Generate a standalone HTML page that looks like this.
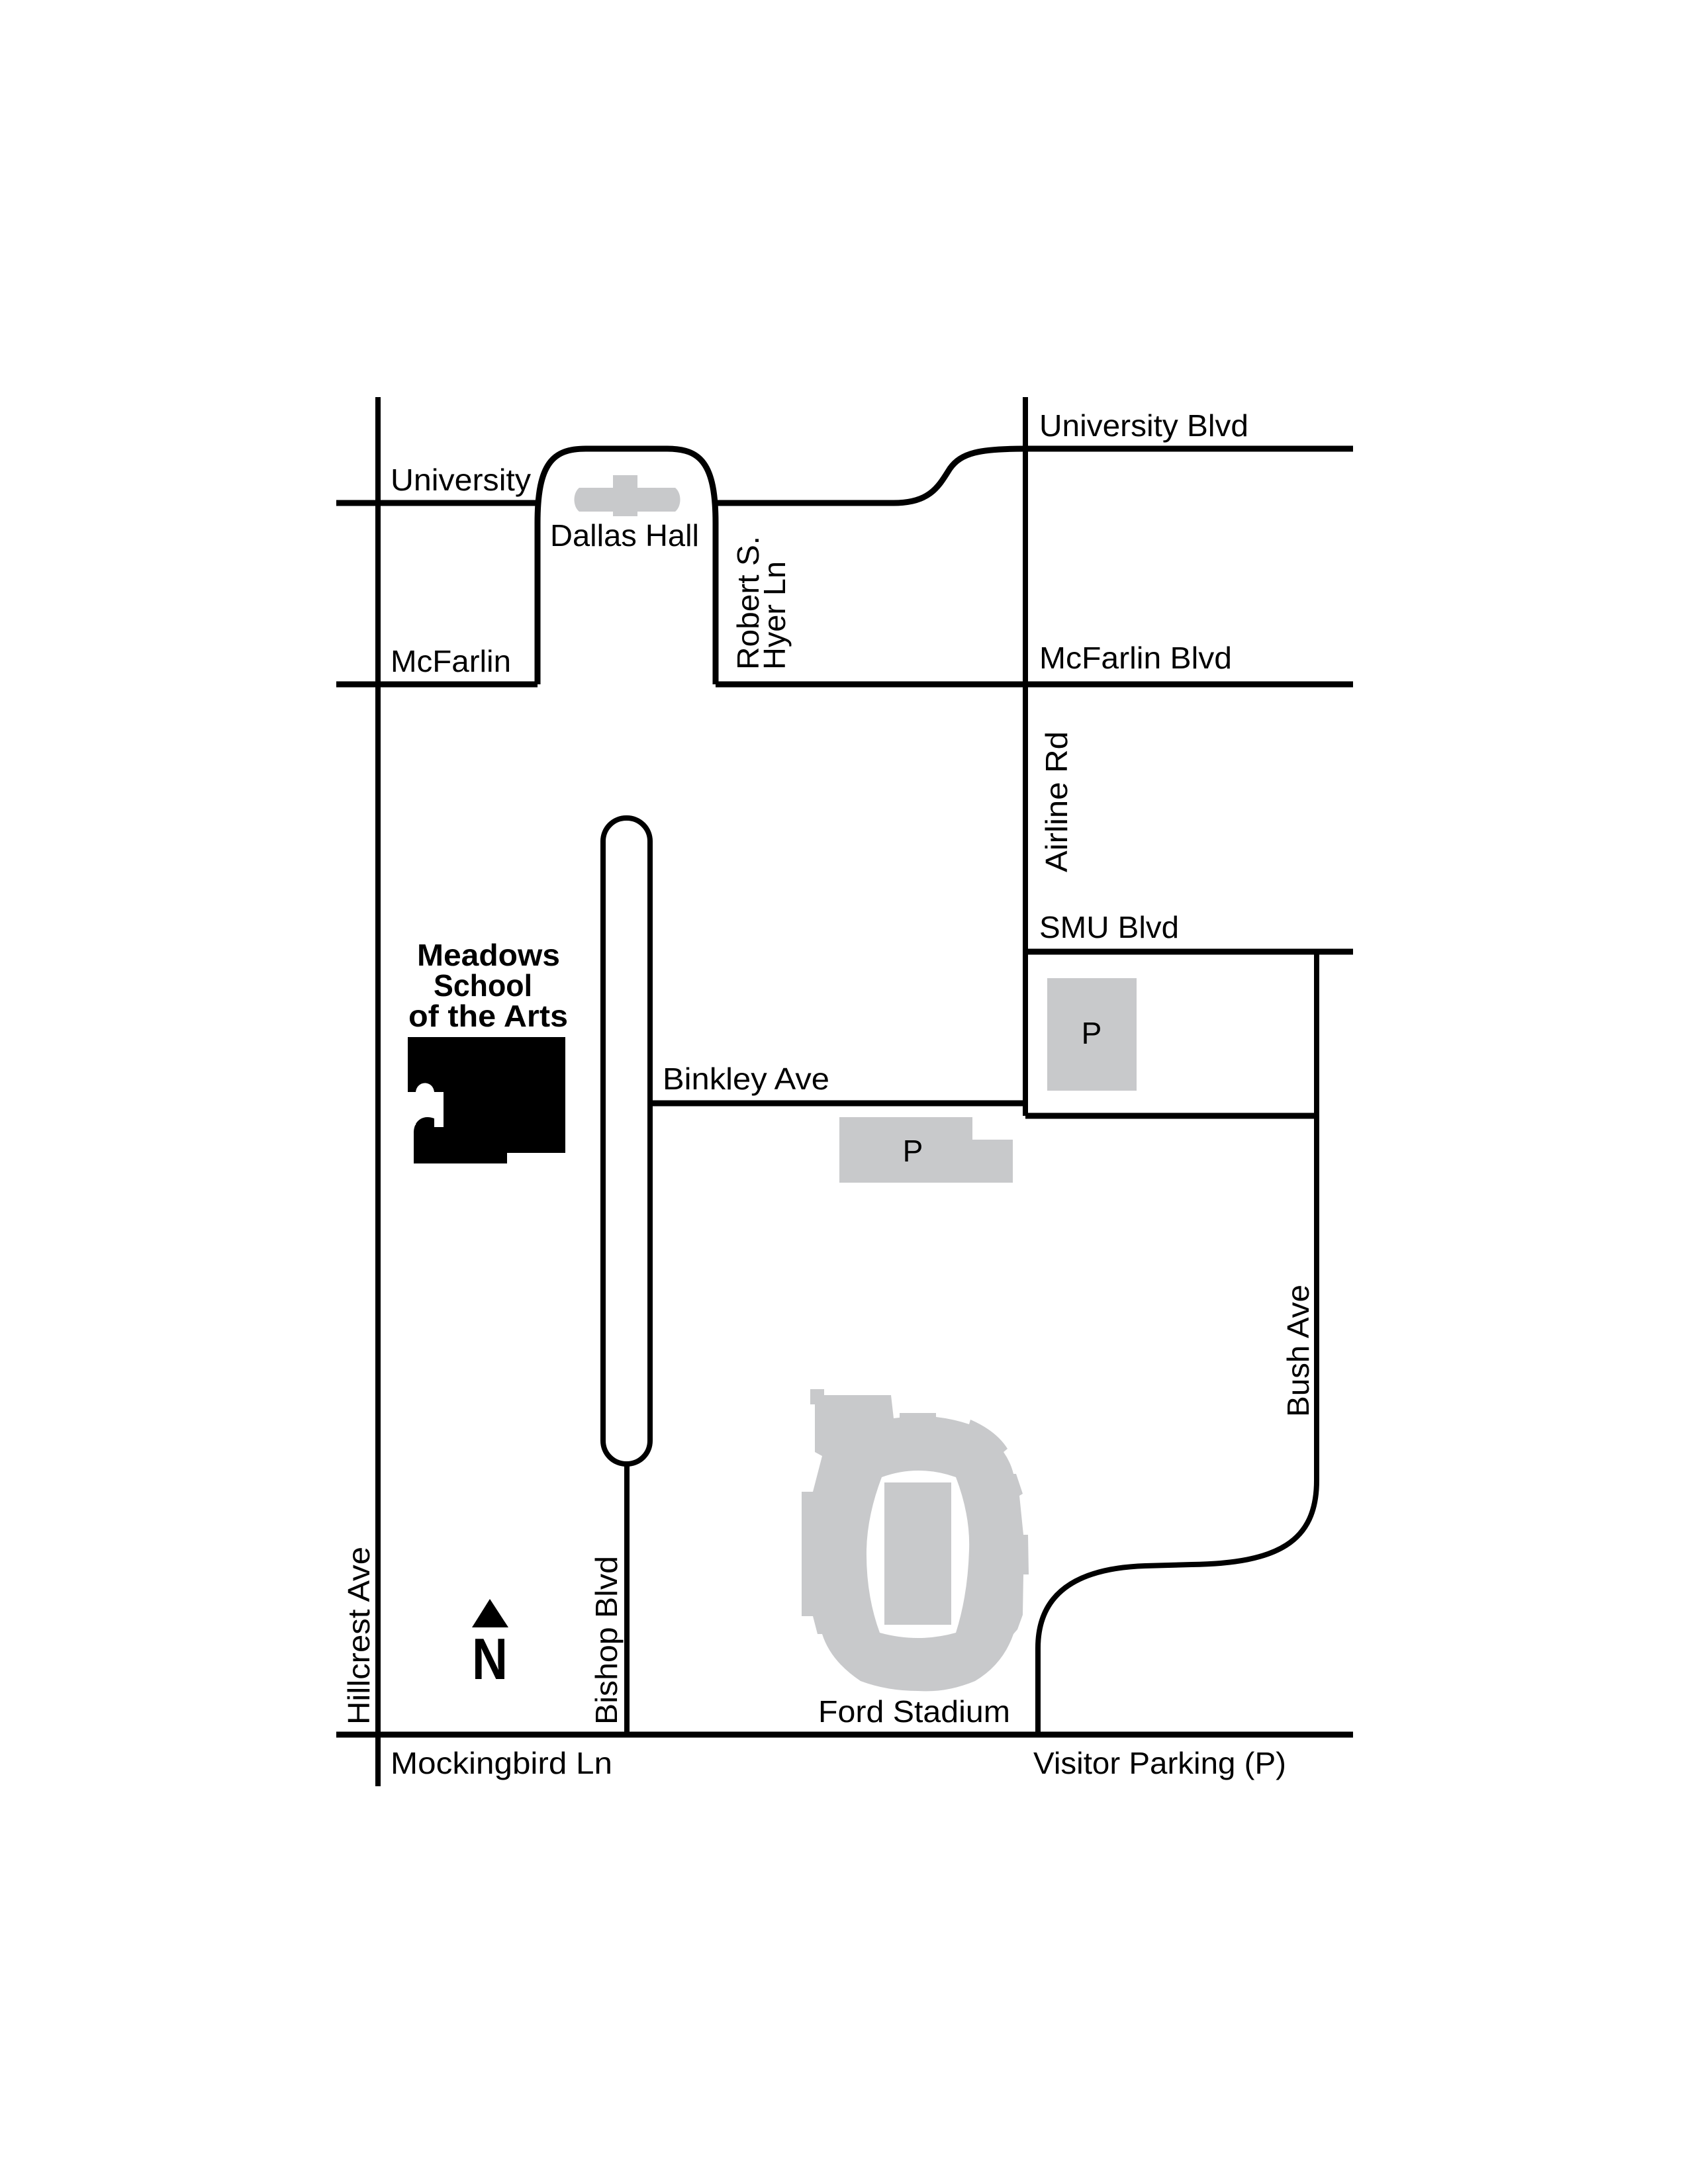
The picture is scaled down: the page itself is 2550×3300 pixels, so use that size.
<!DOCTYPE html>
<html><head><meta charset="utf-8"><style>
html,body{margin:0;padding:0;background:#fff;}
svg{display:block;}
text{font-family:"Liberation Sans",sans-serif;font-size:46px;fill:#000;}
</style></head><body>
<svg width="2550" height="3300" viewBox="0 0 2550 3300" xmlns="http://www.w3.org/2000/svg">
<g fill="none" stroke="#000" stroke-width="9">
<line x1="571" y1="600" x2="571" y2="2699" stroke-width="8"/>
<line x1="1549" y1="600" x2="1549" y2="1686" stroke-width="8"/>
<line x1="508" y1="2621" x2="2044" y2="2621"/>
<line x1="508" y1="760" x2="812" y2="760"/>
<path d="M812,1034 L812,790 C812,700 835,678 885,678 L1008,678 C1058,678 1081,700 1081,790 L1081,1034"/>
<path d="M1081,760 H1350 C1405,760 1418,735 1435,708 C1452,684 1480,678 1549,678 H2044"/>
<line x1="508" y1="1034" x2="812" y2="1034"/>
<line x1="1081" y1="1034" x2="2044" y2="1034"/>
<rect x="911" y="1236" width="71" height="976" rx="35" ry="35" stroke-width="8"/>
<line x1="947" y1="2212" x2="947" y2="2621" stroke-width="8"/>
<line x1="982" y1="1667" x2="1549" y2="1667"/>
<line x1="1549" y1="1438" x2="2044" y2="1438"/>
<line x1="1549" y1="1686" x2="1989" y2="1686"/>
<path d="M1989,1438 V2237 C1989,2330 1930,2362 1800,2364 L1730,2366 C1610,2370 1568,2420 1568,2490 V2621" stroke-width="8"/>
</g>
<g fill="#c8c9cb">
<rect x="1582" y="1478" width="135" height="170"/>
<polygon points="1268,1688 1469,1688 1469,1722 1530,1722 1530,1787 1268,1787"/>
<path d="M926,718 H963 V737 H1020 C1030,745 1030,765 1020,773 H963 V780 H926 V773 H875 C865,765 865,745 875,737 H926 Z"/>
<path d="M1224,2099 L1245,2099 L1245,2108 L1346,2108 L1350,2143 L1359,2142 L1359,2135 L1414,2135 L1414,2141 Q1440,2144 1464,2152 L1466,2145 Q1505,2162 1522,2189 L1516,2194 Q1527,2210 1531,2227 L1535,2227 L1545,2257 L1540,2260 L1546,2319 L1553,2319 L1554,2379 L1546,2379 L1545,2440 L1537,2462 L1531,2469 Q1515,2515 1473,2540 Q1430,2558 1387,2555 Q1340,2555 1300,2540 Q1255,2510 1242,2469 L1235,2469 L1228,2442 L1211,2442 L1211,2254 L1228,2254 L1242,2200 L1231,2194 L1231,2122 L1224,2122 Z"/>
</g>
<path d="M1332,2232 Q1387,2212 1444,2232 Q1466,2290 1464,2342 Q1462,2410 1444,2467 Q1387,2483 1329,2467 Q1308,2410 1309,2342 Q1310,2290 1332,2232 Z" fill="#fff"/>
<rect x="1336" y="2240" width="101" height="215" fill="#c8c9cb"/>
<path d="M616,1567 H854 V1742 H766 V1758 H625 V1712 C625,1692 640,1684 656,1690 V1703 H670 V1650 H656 C654,1632 630,1632 628,1650 H616 Z" fill="#000"/>
<rect x="616" y="1650" width="12" height="50" fill="#fff"/>
<polygon points="740,2416 713,2459 768,2459" fill="#000"/>
<text x="713" y="2537" style="font-size:88px;font-weight:bold" textLength="54" lengthAdjust="spacingAndGlyphs">N</text>

<text x="590" y="741" textLength="212" lengthAdjust="spacingAndGlyphs">University</text>
<text x="590" y="1015" textLength="182" lengthAdjust="spacingAndGlyphs">McFarlin</text>
<text x="831" y="825" textLength="225" lengthAdjust="spacingAndGlyphs">Dallas Hall</text>
<text x="1570" y="659" textLength="316" lengthAdjust="spacingAndGlyphs">University Blvd</text>
<text x="1570" y="1010" textLength="291" lengthAdjust="spacingAndGlyphs">McFarlin Blvd</text>
<text x="1570" y="1417" textLength="211" lengthAdjust="spacingAndGlyphs">SMU Blvd</text>
<text x="1001" y="1646" textLength="252" lengthAdjust="spacingAndGlyphs">Binkley Ave</text>
<text x="1236" y="2602" textLength="290" lengthAdjust="spacingAndGlyphs">Ford Stadium</text>
<text x="590" y="2680" textLength="335" lengthAdjust="spacingAndGlyphs">Mockingbird Ln</text>
<text x="1561" y="2680" textLength="382" lengthAdjust="spacingAndGlyphs">Visitor Parking (P)</text>
<text x="1649" y="1577" text-anchor="middle">P</text>
<text x="1379" y="1755" text-anchor="middle">P</text>
<text x="630" y="1459" font-weight="bold" textLength="216" lengthAdjust="spacingAndGlyphs">Meadows</text>
<text x="655" y="1505" font-weight="bold" textLength="149" lengthAdjust="spacingAndGlyphs">School</text>
<text x="617" y="1551" font-weight="bold" textLength="241" lengthAdjust="spacingAndGlyphs">of the Arts</text>

<text transform="translate(1146,1012) rotate(-90)" textLength="202" lengthAdjust="spacingAndGlyphs">Robert S.</text>
<text transform="translate(1186,1012) rotate(-90)" textLength="164" lengthAdjust="spacingAndGlyphs">Hyer Ln</text>
<text transform="translate(1612,1318) rotate(-90)" textLength="213" lengthAdjust="spacingAndGlyphs">Airline Rd</text>
<text transform="translate(1977,2141) rotate(-90)" textLength="200" lengthAdjust="spacingAndGlyphs">Bush Ave</text>
<text transform="translate(558,2606) rotate(-90)" textLength="269" lengthAdjust="spacingAndGlyphs">Hillcrest Ave</text>
<text transform="translate(932,2606) rotate(-90)" textLength="255" lengthAdjust="spacingAndGlyphs">Bishop Blvd</text>
</svg>
</body></html>
